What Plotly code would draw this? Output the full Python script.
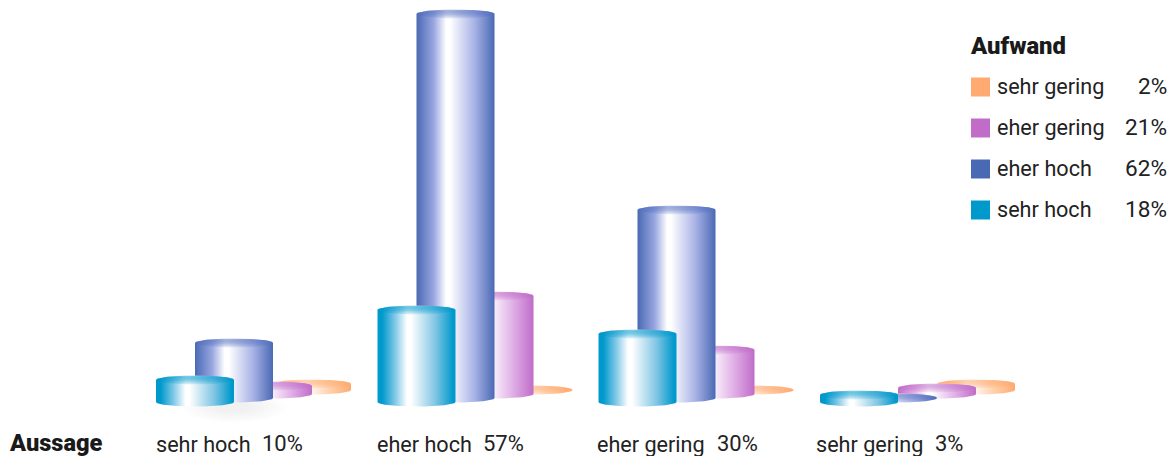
import numpy as np
import plotly.graph_objects as go

# ---- data -----------------------------------------------------------
categories = ["sehr hoch", "eher hoch", "eher gering", "sehr gering"]
category_pct = ["10%", "57%", "30%", "3%"]
legend_names = ["sehr gering", "eher gering", "eher hoch", "sehr hoch"]
legend_pct = ["2%", "21%", "62%", "18%"]
sehr_gering = [0.6, 0.0, 0.0, 0.6]
eher_gering = [0.8, 9.8, 4.4, 0.6]
eher_hoch = [5.5, 38.4, 18.8, 0.0]
sehr_hoch = [2.2, 9.2, 6.8, 0.7]

# ---- style / layout constants ----------------------------------------
W, H = 1170, 456
PX = 10.0                 # pixels per percent point
BASE_PX = 402.0
series = [
    (sehr_gering, "#ffaa70", "rgba(255,170,112,", 0.0, "#ffd0ac", "#ffcfa8"),
    (eher_gering, "#c06cc8", "rgba(192,108,200,", 0.0, "#e3b4e8", "#dfaee6"),
    (eher_hoch, "#4a69b4", "rgba(84,112,192,", 0.0, "#98a6e0", "#a9b3e6"),
    (sehr_hoch, "#0099cc", "rgba(0,153,204,", 0.06, "#7cc6e6", "#82c6e4"),
]
GROUP_X = [195, 416.5, 637.5, 859]
STEP_X = 39.0
RX = 39.0
RY = 0.45
STEP_Y = 0.4
LABEL_X = [156, 377, 597, 816]
PCT_X = [261.5, 483, 717, 935]
TEXT = "#222222"
FONT = "Roboto"

t = np.linspace(0, 2 * np.pi, 121)
ex, ey = np.cos(t), np.sin(t)
fig = go.Figure()


def poly(x, y, gradient):
    fig.add_trace(go.Scatter(x=x, y=y, mode="lines", line=dict(width=0), fill="toself",
                             fillcolor="rgba(0,0,0,0)", fillgradient=gradient,
                             hoverinfo="skip", showlegend=False))


# faint shadow under the first group
for k in np.linspace(1, 0.35, 7):
    fig.add_trace(go.Scatter(x=234 + 52 * k * ex, y=-0.55 + 1.5 * k * ey, mode="lines",
                             line=dict(width=0), fill="toself", fillcolor="rgba(120,120,120,0.012)",
                             hoverinfo="skip", showlegend=False))

for g in range(len(categories)):
    for s_i, (vals, col, rgba, hold, mid_l, mid_r) in enumerate(series):
        back = 3 - s_i
        cx = GROUP_X[g] + STEP_X * back
        y0 = STEP_Y * back
        y1 = y0 + vals[g]
        a = np.linspace(np.pi, 2 * np.pi, 61)       # lower half
        b = np.linspace(0, np.pi, 61)               # upper half
        sx = np.r_[cx + RX * np.cos(a), cx + RX * np.cos(b)]
        sy = np.r_[y0 + RY * np.sin(a), y1 + RY * np.sin(b)]
        poly(sx, sy, dict(type="horizontal", start=cx - RX, stop=cx + RX,
                          colorscale=[[0, col], [hold, col], [0.22, mid_l], [0.38, "#ffffff"],
                                      [0.43, "#ffffff"], [0.74, mid_r], [1 - hold / 2, col], [1, col]]))
        poly(cx + RX * ex, y1 + RY * ey,
             dict(type="vertical", start=y1 - RY, stop=y1 + RY,
                  colorscale=[[0, rgba + "0.1)"], [0.5, rgba + "0.5)"], [0.85, rgba + "0.6)"],
                              [1, rgba + "0.3)"]]))

# ---- text ------------------------------------------------------------
def label(x, y, s, anchor="left", bold=False, size=21.6):
    fig.add_annotation(x=x, y=(BASE_PX - y) / PX, text=s, xanchor=anchor, yanchor="middle",
                       showarrow=False, xref="x", yref="y", align=anchor, borderpad=0,
                       xshift=(-2 if bold else -1) if anchor == "left" else 1,
                       font=dict(family=FONT, size=size, color="#1a1a1a" if bold else TEXT,
                                 weight=900 if bold else 400))


label(10, 442.8, "Aussage", bold=True, size=23.6)
label(971, 46, "Aufwand", bold=True, size=23.8)
for x, c, px, p in zip(LABEL_X, categories, PCT_X, category_pct):
    label(x, 444, c)
    label(px, 443.6, p, size=22)

LEG_Y = [87, 128, 169, 210]
fig.add_trace(go.Scatter(x=[980.5] * 4, y=[(BASE_PX - y) / PX for y in LEG_Y], mode="markers",
                         marker=dict(symbol="square", size=19, color=[s[1] for s in series],
                                     line=dict(width=0)),
                         hoverinfo="skip", showlegend=False))
for y, n, p in zip(LEG_Y, legend_names, legend_pct):
    label(997, y - 0.6, n)
    label(1167, y - 0.6, p, anchor="right", size=22.6)

fig.update_layout(
    width=W, height=H, margin=dict(l=0, r=0, t=0, b=0), paper_bgcolor="white", plot_bgcolor="white",
    showlegend=False,
    xaxis=dict(range=[0, W], visible=False, fixedrange=True),
    yaxis=dict(range=[(BASE_PX - H) / PX, BASE_PX / PX], visible=False, fixedrange=True),
)
fig.write_html("out.html", config=dict(displayModeBar=False),
               post_script="document.body.style.margin='0';document.body.style.overflow='hidden';")
